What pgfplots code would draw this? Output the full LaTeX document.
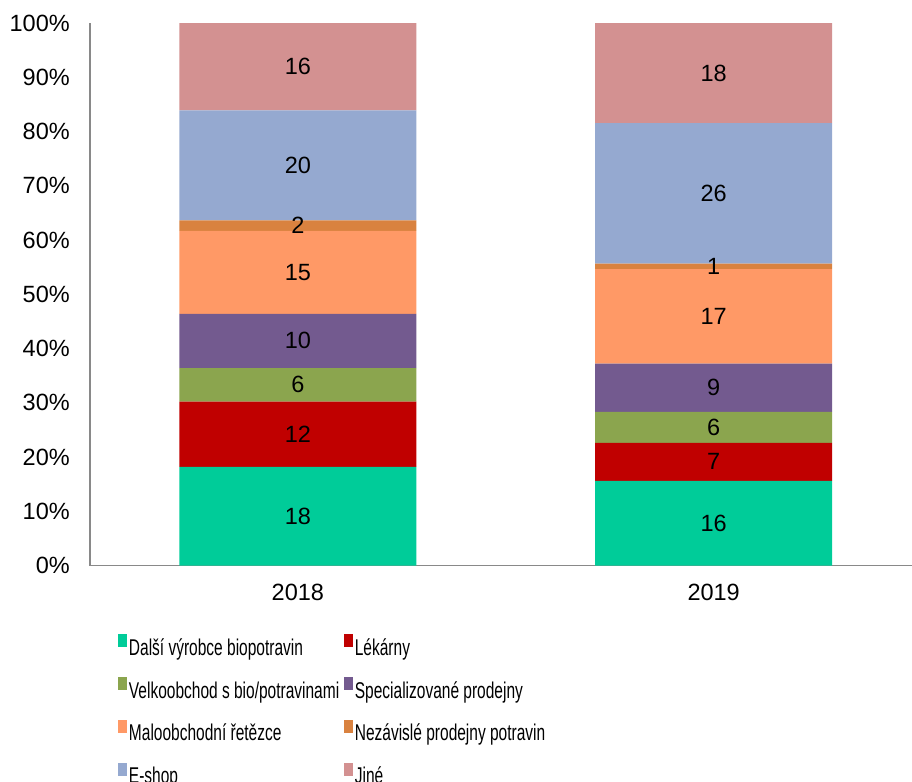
\documentclass[border=0pt]{standalone}
\usepackage{pgfplots}
\pgfplotsset{compat=1.18}
\usepackage{pgfplotstable}
\usepackage{fontspec}
\setmainfont{Liberation Sans}
\newfontfamily\legfont[FakeStretch=0.68]{Liberation Sans}

\definecolor{cA}{HTML}{00CC99}
\definecolor{cB}{HTML}{C00000}
\definecolor{cC}{HTML}{8BA54E}
\definecolor{cD}{HTML}{735A8F}
\definecolor{cE}{HTML}{FF9966}
\definecolor{cF}{HTML}{D9823F}
\definecolor{cG}{HTML}{95A9D0}
\definecolor{cH}{HTML}{D39191}
\definecolor{axgray}{HTML}{898989}

\pgfplotstableread{
x a al b bl c cl d dl e el f fl g gl h hl
0 18.2 18 12.0 12 6.2 6 10.0 10 15.3 15 1.9 2 20.3 20 16.1 16
1 15.6 16 7.0 7 5.7 6 8.9 9 17.45 17 1.0 1 25.9 26 18.45 18
}\data

\newcommand\legtext[1]{\makebox[107.6pt][l]{\vrule height 9pt depth 3pt width 0pt #1}}
\pgfplotsset{sq legend/.style={legend image code/.code={\fill[##1] (0pt,0.3pt) rectangle (4.2pt,6.8pt);}}}
\newcommand\seg[3]{%
  \addplot[fill=#1, draw=none, sq legend]
    table[x=x, y=#2, meta=#3] {\data};}

\begin{document}
\begin{tikzpicture}
\path[use as bounding box] (-45pt,-108.25pt) rectangle (411pt,282.75pt);
\begin{axis}[
  at={(0pt,0pt)}, anchor=south west,
  scale only axis, width=411pt, height=271.25pt,
  ybar stacked, bar width=118.5pt,
  xmin=-0.5, xmax=1.477, ymin=0, ymax=100,
  enlargelimits=false,
  axis x line*=bottom, axis y line*=left,
  axis line style={draw=axgray, line width=0.6pt},
  major tick length=0pt,
  xtick={0,1}, xticklabels={2018,2019},
  ytick={0,10,20,30,40,50,60,70,80,90,100},
  yticklabels={0\%,10\%,20\%,30\%,40\%,50\%,60\%,70\%,80\%,90\%,100\%},
  tick label style={font=\fontsize{11.75pt}{14pt}\selectfont, text=black},
  xticklabel style={yshift=-5.8pt},
  yticklabel style={xshift=-6.6pt},
  point meta=explicit symbolic,
  nodes near coords={\pgfplotspointmeta},
  every node near coord/.append style={anchor=center,
    font=\fontsize{11.75pt}{14pt}\selectfont, text=black, inner sep=0pt},
  legend columns=2,
  legend cell align=left,
  legend style={draw=none, fill=none, inner sep=0pt, outer sep=0pt,
    at={(axis description cs:0.0344,-0.1268)}, anchor=north west,
    font=\legfont\fontsize{11.4pt}{13pt}\selectfont,
    row sep=9.35pt,
    /tikz/every odd column/.append style={column sep=1.15pt},
    /tikz/every even column/.append style={column sep=0pt},
    nodes={inner sep=0pt}},
]
\seg{cA}{a}{al}
\addlegendentry{\legtext{Další výrobce biopotravin}}
\seg{cB}{b}{bl}
\addlegendentry{\legtext{Lékárny}}
\seg{cC}{c}{cl}
\addlegendentry{\legtext{Velkoobchod s bio/potravinami}}
\seg{cD}{d}{dl}
\addlegendentry{\legtext{Specializované prodejny}}
\seg{cE}{e}{el}
\addlegendentry{\legtext{Maloobchodní řetězce}}
\seg{cF}{f}{fl}
\addlegendentry{\legtext{Nezávislé prodejny potravin}}
\seg{cG}{g}{gl}
\addlegendentry{\legtext{E-shop}}
\seg{cH}{h}{hl}
\addlegendentry{\legtext{Jiné}}
\end{axis}
\end{tikzpicture}
\end{document}
